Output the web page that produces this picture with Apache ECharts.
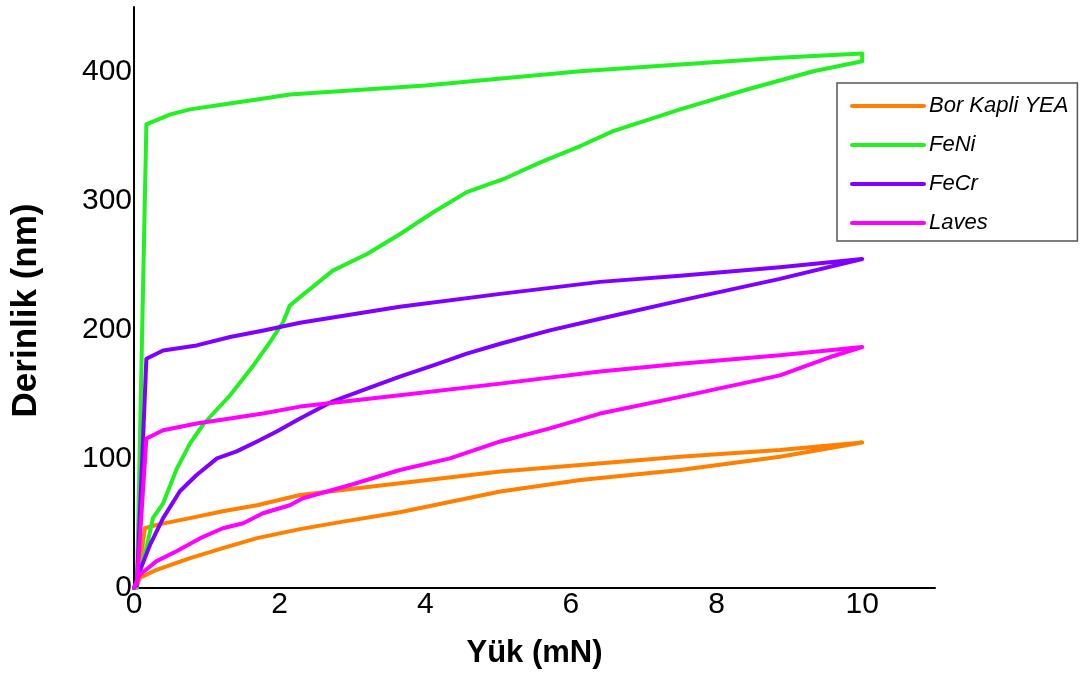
<!DOCTYPE html>
<html>
<head>
<meta charset="utf-8">
<script src="https://cdn.jsdelivr.net/npm/echarts@6/dist/echarts.min.js"></script>
<style>
  html, body { margin: 0; padding: 0; background: #ffffff; }
  #chart { width: 1080px; height: 674px; }
</style>
</head>
<body>
<div id="chart"></div>
<script>
// Nanoindentation load–depth curves: loading branch followed by unloading branch.
const seriesNames = ['Bor Kapli YEA', 'FeNi', 'FeCr', 'Laves'];
const seriesColors = ['#FF8000', '#22F022', '#7F00FF', '#FF00FF'];

const xTicks = [0, 2, 4, 6, 8, 10];
const yTicks = [0, 100, 200, 300, 400];

// Bor Kapli YEA
const borLoad  = [0, 0.04, 0.08, 0.31, 0.77, 1.22, 1.69, 2.28, 2.83, 3.65, 5.03, 6.13, 7.50, 8.87, 10.0,
                  8.87, 7.50, 6.13, 5.03, 3.65, 2.28, 1.69, 1.22, 0.77, 0.31, 0.15, 0.08, 0.04];
const borDepth = [0, 1.5, 7.7, 14.1, 23.2, 30.9, 38.6, 45.6, 51.0, 58.7, 74.7, 83.6, 91.4, 101.7, 112.7,
                  106.8, 101.7, 95.2, 90.3, 81.1, 72.0, 64.1, 59.5, 54.1, 48.9, 46.3, 17.8, 2.5];

// FeNi
const feniLoad  = [0, 0.04, 0.17, 0.26, 0.40, 0.59, 0.77, 0.96, 1.32, 1.64, 1.87, 2.05, 2.14, 2.28, 2.73,
                   3.20, 3.65, 4.11, 4.57, 5.07, 5.58, 6.13, 6.58, 7.50, 8.42, 9.33, 10.0, 10.0,
                   8.87, 7.50, 6.13, 4.00, 2.14, 1.69, 1.22, 0.77, 0.50, 0.17, 0.04];
const feniDepth = [0, 5.4, 30.9, 54.1, 65.6, 92.7, 112.0, 127.4, 149.3, 172.4, 190.7, 206.2, 218.8, 225.3, 245.8,
                   258.7, 274.0, 291.0, 306.6, 316.6, 329.7, 342.3, 353.9, 370.7, 386.1, 400.2, 408.0, 413.9,
                   410.6, 405.4, 400.2, 389.2, 382.2, 378.4, 374.5, 370.7, 366.8, 359.1, 0];

// FeCr
const fecrLoad  = [0, 0.08, 0.22, 0.40, 0.63, 0.86, 1.14, 1.41, 1.69, 1.96, 2.28, 2.73, 3.20, 3.65, 4.11,
                   4.57, 5.03, 5.71, 6.40, 7.50, 8.87, 10.0,
                   8.87, 7.50, 6.40, 5.03, 3.65, 2.28, 1.78, 1.32, 0.86, 0.40, 0.17, 0.04];
const fecrDepth = [0, 13.1, 33.4, 54.1, 74.9, 87.5, 100.4, 105.8, 113.5, 121.2, 131.3, 144.6, 154.4, 163.7, 172.4,
                   181.5, 189.2, 199.5, 208.5, 222.6, 239.4, 254.8,
                   248.4, 241.9, 237.1, 227.8, 217.8, 205.4, 199.5, 194.4, 187.9, 184.0, 177.6, 2];

// Laves
const lavesLoad  = [0, 0.08, 0.31, 0.59, 0.91, 1.22, 1.50, 1.77, 2.14, 2.32, 2.97, 3.65, 4.34, 5.03, 5.71,
                    6.40, 7.50, 8.87, 9.56, 10.0,
                    8.87, 7.50, 6.40, 5.03, 3.65, 2.28, 1.77, 1.32, 0.86, 0.40, 0.17, 0.04];
const lavesDepth = [0, 10.3, 20.8, 28.6, 38.6, 46.3, 50.2, 57.9, 64.1, 69.5, 79.8, 91.4, 100.4, 113.5, 123.6,
                    135.1, 148.0, 164.7, 178.9, 186.6,
                    180.2, 173.7, 167.6, 158.3, 149.3, 140.5, 135.1, 131.3, 127.4, 122.2, 115.8, 3];

const loads  = [borLoad, feniLoad, fecrLoad, lavesLoad];
const depths = [borDepth, feniDepth, fecrDepth, lavesDepth];

const FONT = "'Liberation Sans', Arial, Helvetica, sans-serif";

function pairs(xs, ys) {
  return xs.map((x, i) => [x, ys[i]]);
}

const chart = echarts.init(document.getElementById('chart'), null, { renderer: 'canvas' });

chart.setOption({
  backgroundColor: '#ffffff',
  animation: false,
  grid: { left: 134, right: 145, top: 7, bottom: 84, containLabel: false },
  legend: {
    orient: 'vertical',
    left: 837,
    top: 83,
    padding: [12, 9, 7, 13],
    itemWidth: 72,
    itemHeight: 22,
    itemGap: 17,
    borderColor: '#555555',
    borderWidth: 1.5,
    data: seriesNames,
    // plain line swatches, no marker
    itemStyle: { opacity: 0 },
    lineStyle: { width: 4, cap: 'round' },
    textStyle: {
      fontFamily: FONT,
      fontStyle: 'italic',
      fontSize: 22,
      lineHeight: 22,
      color: '#000000'
    }
  },
  xAxis: {
    type: 'value',
    min: 0,
    max: 11,
    interval: 2,
    name: 'Yük (mN)',
    nameLocation: 'middle',
    nameGap: 50,
    nameTextStyle: { fontFamily: FONT, fontWeight: 'bold', fontSize: 31, color: '#000' },
    axisLine: { show: true, onZero: false, lineStyle: { color: '#000', width: 2 } },
    axisTick: { show: false },
    splitLine: { show: false },
    axisLabel: {
      margin: 2,
      fontFamily: FONT,
      fontSize: 30,
      color: '#000',
      formatter: v => (xTicks.includes(v) ? String(v) : '')
    }
  },
  yAxis: {
    type: 'value',
    min: 0,
    max: 450,
    interval: 100,
    name: 'Derinlik (nm)',
    nameLocation: 'middle',
    nameGap: 90,
    nameTextStyle: {
      fontFamily: FONT, fontWeight: 'bold', fontSize: 35, color: '#000',
      padding: [0, 26, 0, 0]
    },
    axisLine: { show: true, onZero: false, lineStyle: { color: '#000', width: 2 } },
    axisTick: { show: false },
    splitLine: { show: false },
    axisLabel: {
      margin: 2,
      fontFamily: FONT,
      fontSize: 30,
      color: '#000',
      formatter: v => (yTicks.includes(v) ? String(v) : '')
    }
  },
  series: seriesNames.map((name, i) => ({
    name: name,
    type: 'line',
    data: pairs(loads[i], depths[i]),
    showSymbol: false,
    symbol: 'none',
    smooth: false,
    clip: false,
    color: seriesColors[i],
    lineStyle: { color: seriesColors[i], width: 4, cap: 'round', join: 'round' }
  }))
});
</script>
</body>
</html>
